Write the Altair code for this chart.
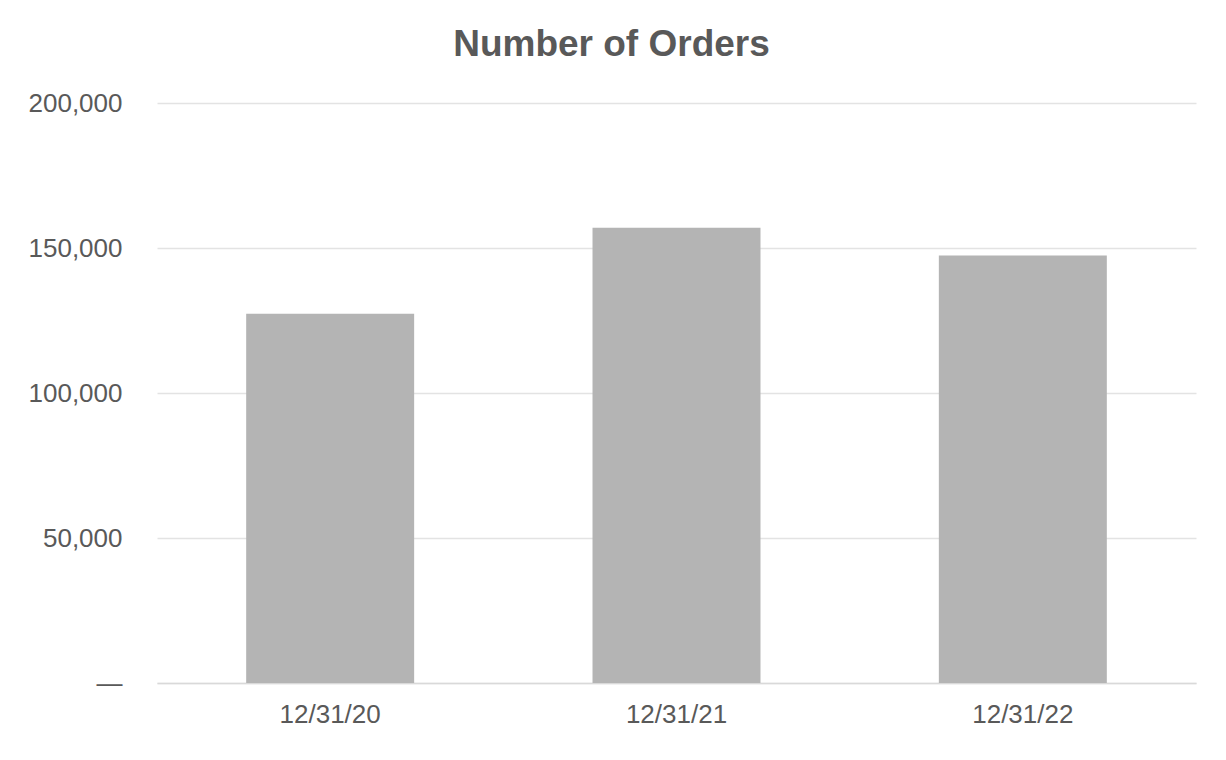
import altair as alt
import pandas as pd

dates = ["12/31/20", "12/31/21", "12/31/22"]
orders = [127300, 157000, 147400]

df = pd.DataFrame({"date": dates, "orders": orders})

TXT = "#595959"
FONT = "Liberation Sans"

chart = alt.Chart(df).mark_bar(color="#b4b4b4").encode(
    x=alt.X("date:N", sort=dates, title=None,
            scale=alt.Scale(paddingInner=0.515, paddingOuter=0.2575),
            axis=alt.Axis(labelAngle=0, labelFontSize=26, labelColor=TXT, labelFont=FONT,
                          ticks=False, domain=True, domainColor="#d9d9d9", domainWidth=1.5,
                          labelPadding=18, grid=False)),
    y=alt.Y("orders:Q", title=None,
            scale=alt.Scale(domain=[0, 200000], nice=False),
            axis=alt.Axis(values=[0, 50000, 100000, 150000, 200000],
                          labelExpr="datum.value == 0 ? '—' : format(datum.value, ',')",
                          labelFontSize=26, labelColor=TXT, labelFont=FONT,
                          ticks=False, domain=False, labelPadding=35,
                          gridColor="#e3e3e3", gridWidth=1.5)),
).properties(
    width=1039, height=580,
    title=alt.TitleParams("Number of Orders", fontSize=37, font=FONT, fontWeight="bold",
                          color=TXT, anchor="middle", dx=-65, offset=26),
    autosize=alt.AutoSizeParams(type="none"),
    padding={"left": 149, "top": 95, "right": 22, "bottom": 70},
).configure_view(stroke=None)

chart.save("out.html", embed_options={"renderer": "svg", "actions": False})
